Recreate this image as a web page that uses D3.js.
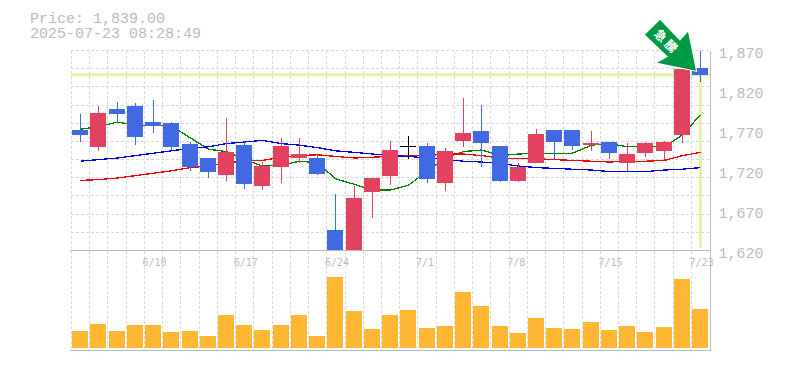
<!DOCTYPE html>
<html>
<head>
<meta charset="utf-8">
<script src="https://cdn.jsdelivr.net/npm/d3@7"></script>
<style>
  html, body { margin: 0; padding: 0; background: #fff; overflow: hidden; }
  svg { display: block; }
  text { font-family: "Liberation Mono", monospace; fill: #bbb; }
</style>
</head>
<body>
<div id="chart"></div>
<script>
// Datos
const dates = ['6/4','6/5','6/6','6/9','6/10','6/11','6/12','6/13','6/16','6/17','6/18','6/19','6/20','6/23','6/24','6/25','6/26','6/27','6/30','7/1','7/2','7/3','7/4','7/7','7/8','7/9','7/10','7/11','7/14','7/15','7/16','7/17','7/18','7/22','7/23'];
const dateLabels = ['6/10','6/17','6/24','7/1','7/8','7/15','7/23'];
const priceTicks = [1620, 1670, 1720, 1770, 1820, 1870];

const open  = [1770,1749,1796,1800,1780,1779,1753,1735,1714,1751,1700,1724,1735,1735,1645,1618,1693,1713,1750,1750,1704,1756,1769,1750,1706,1729,1770,1770,1751,1755,1729,1741,1744,1764,1848];
const close = [1764,1791,1790,1761,1775,1749,1724,1718,1743,1703,1725,1750,1740,1715,1618,1685,1710,1745,1750,1709,1744,1766,1754,1706,1724,1765,1755,1750,1754,1741,1740,1754,1755,1846,1839];
const high  = [1790,1800,1805,1804,1808,1780,1755,1735,1785,1756,1730,1760,1760,1740,1690,1700,1710,1756,1763,1754,1748,1810,1801,1750,1729,1771,1770,1770,1769,1755,1754,1755,1756,1846,1869];
const low   = [1755,1744,1780,1751,1766,1745,1719,1710,1706,1696,1695,1704,1729,1714,1610,1610,1660,1701,1734,1704,1694,1749,1724,1705,1705,1729,1734,1745,1744,1734,1719,1736,1733,1754,1830];

const maShort = [1771,1774,1780,1776,1776,1775,1760,1746,1743,1733,1725,1726,1731,1729,1709,1702,1695,1695,1701,1719,1735,1743,1745,1738,1740,1741,1741,1741,1751,1753,1749,1749,1749,1764,1789];
const maMid   = [1707,1708,1710,1713,1716,1719,1723,1725,1729,1731,1732,1736,1738,1739,1737,1735,1736,1737,1738,1738,1740,1740,1738,1735,1734,1734,1733,1732,1731,1730,1731,1731,1732,1738,1742];
const maLong  = [1731,1733,1735,1738,1741,1744,1747,1749,1753,1755,1757,1753,1751,1748,1744,1742,1740,1738,1737,1735,1733,1731,1730,1728,1725,1723,1722,1721,1720,1718,1718,1718,1720,1721,1723];

const volume = [17,24,17,23,23,16,17,12,33,23,18,23,33,12,71,37,19,33,38,20,22,56,42,22,15,30,20,19,26,18,22,16,21,69,39];

const lastPrice = 1839;

const width = 785, height = 370;
const left = 71, right = 710;
const priceTop = 50, priceBottom = 250, volBottom = 350;

const svg = d3.select('#chart').append('svg')
    .attr('width', width)
    .attr('height', height);

// Escalas
const x = d3.scaleBand()
    .domain(dates)
    .range([left, 709.2])
    .paddingInner(0.12)
    .paddingOuter(0.06);
const cx = d => Math.round(x(d) + x.bandwidth() / 2);

const y = d3.scaleLinear().domain([1620, 1870]).range([priceBottom, priceTop]);
const yVol = d3.scaleLinear().domain([0, 98]).range([348, priceBottom]);

const crisp = v => Math.round(v) + 0.5;

// Rejilla
const grid = svg.append('g')
    .attr('stroke', '#d9d9d9')
    .attr('stroke-dasharray', '3,2')
    .attr('shape-rendering', 'crispEdges');

grid.selectAll('.h')
    .data(d3.range(1, 12).map(i => 1620 + i * 250 / 11))
    .enter().append('line')
    .attr('x1', left).attr('x2', right)
    .attr('y1', d => crisp(y(d))).attr('y2', d => crisp(y(d)));

grid.selectAll('.v')
    .data(dates)
    .enter().append('line')
    .attr('x1', d => crisp(x(d) - x.step() * 0.06)).attr('x2', d => crisp(x(d) - x.step() * 0.06))
    .attr('y1', 51).attr('y2', volBottom);

// Linea del ultimo precio
svg.append('line')
    .attr('x1', left).attr('x2', right)
    .attr('y1', y(lastPrice)).attr('y2', y(lastPrice))
    .attr('stroke', '#e4f3a8').attr('stroke-width', 3);
svg.append('line')
    .attr('x1', cx(dates[34]) + 0.5).attr('x2', cx(dates[34]) + 0.5)
    .attr('y1', y(lastPrice)).attr('y2', priceBottom - 2)
    .attr('stroke', '#e4f3a8').attr('stroke-width', 3);

// Medias moviles
const drawLine = (values, color) => {
    svg.append('path')
        .datum(values)
        .attr('fill', 'none')
        .attr('stroke', color)
        .attr('stroke-width', 1.3)
        .attr('shape-rendering', 'crispEdges')
        .attr('d', d3.line().x((d, i) => cx(dates[i]) + 0.5).y(d => y(d)));
};
drawLine(maShort, '#008000');
drawLine(maMid, '#ff0000');
drawLine(maLong, '#0000ff');

// Velas
svg.append('clipPath').attr('id', 'price-clip')
    .append('rect')
    .attr('x', left).attr('y', priceTop - 2)
    .attr('width', right - left).attr('height', priceBottom - priceTop + 2);

const candleColor = i => close[i] > open[i] ? '#e2425f' : close[i] < open[i] ? '#4169e1' : '#000';

const candles = svg.append('g')
    .attr('clip-path', 'url(#price-clip)')
    .attr('shape-rendering', 'crispEdges')
    .selectAll('g')
    .data(dates)
    .enter().append('g');

candles.append('line')
    .attr('x1', d => cx(d) + 0.5).attr('x2', d => cx(d) + 0.5)
    .attr('y1', (d, i) => y(high[i])).attr('y2', (d, i) => y(low[i]))
    .attr('stroke', (d, i) => candleColor(i));

candles.append('rect')
    .attr('x', d => cx(d) - 8)
    .attr('width', 16)
    .attr('y', (d, i) => y(Math.max(open[i], close[i])))
    .attr('height', (d, i) => Math.max(1, Math.abs(y(open[i]) - y(close[i]))))
    .attr('fill', (d, i) => candleColor(i));

// Volumen
svg.append('g')
    .attr('shape-rendering', 'crispEdges')
    .selectAll('rect')
    .data(volume)
    .enter().append('rect')
    .attr('x', (d, i) => cx(dates[i]) - 8)
    .attr('width', 16)
    .attr('y', d => yVol(d))
    .attr('height', d => yVol(0) - yVol(d))
    .attr('fill', '#ffb733');

// Ejes
const xAxis = svg.append('g')
    .attr('transform', 'translate(0,250.5)')
    .call(d3.axisBottom(x).tickValues(dateLabels).tickSize(0).tickPadding(8));
xAxis.select('.domain').attr('stroke', '#bbb').attr('d', `M${left - 1},0H${right}`);
xAxis.selectAll('text')
    .attr('font-size', 10)
    .attr('text-anchor', 'start')
    .attr('dx', -10.5)
    .style('font-family', '"DejaVu Sans Mono", monospace')
    .attr('fill', '#bbb');

const yAxis = svg.append('g')
    .attr('transform', `translate(${right + 0.5},0)`)
    .call(d3.axisRight(y).tickValues(priceTicks).tickFormat(d3.format(',')).tickSize(0).tickPadding(9));
yAxis.select('.domain').remove();
yAxis.selectAll('text')
    .attr('font-size', 15)
    .attr('dx', -1)
    .attr('dy', '0.52em')
    .attr('fill', '#bbb');

// Marco
svg.append('path')
    .attr('d', `M${right + 0.5},51V${volBottom + 0.5}H${left - 1}`)
    .attr('fill', 'none')
    .attr('stroke', '#bbb')
    .attr('shape-rendering', 'crispEdges');

// Textos de cabecera
svg.append('text').attr('x', 30).attr('y', 23).attr('font-size', 15)
    .text('Price: ' + d3.format(',.2f')(lastPrice));
svg.append('text').attr('x', 30).attr('y', 38).attr('font-size', 15)
    .text('2025-07-23 08:28:49');

// Flecha
const arrow = svg.append('g')
    .attr('transform', `translate(${cx(dates[34]) - 4},${y(lastPrice) - 4})`);
arrow.append('path')
    .attr('d', 'M-36,-51L-16,-30L-8,-39L0,0L-39,-8L-28,-14L-51,-36Z')
    .attr('fill', '#009944')
    .attr('stroke', '#fff')
    .attr('stroke-width', 2)
    .attr('paint-order', 'stroke');
arrow.append('text')
    .attr('transform', 'translate(-29,-29) rotate(45)')
    .attr('text-anchor', 'middle')
    .attr('dy', '0.38em')
    .attr('font-size', 12)
    .attr('letter-spacing', 3)
    .attr('font-weight', 'bold')
    .style('font-family', '"Noto Sans CJK JP"')
    .style('fill', '#fff')
    .text('急騰');
</script>
</body>
</html>
